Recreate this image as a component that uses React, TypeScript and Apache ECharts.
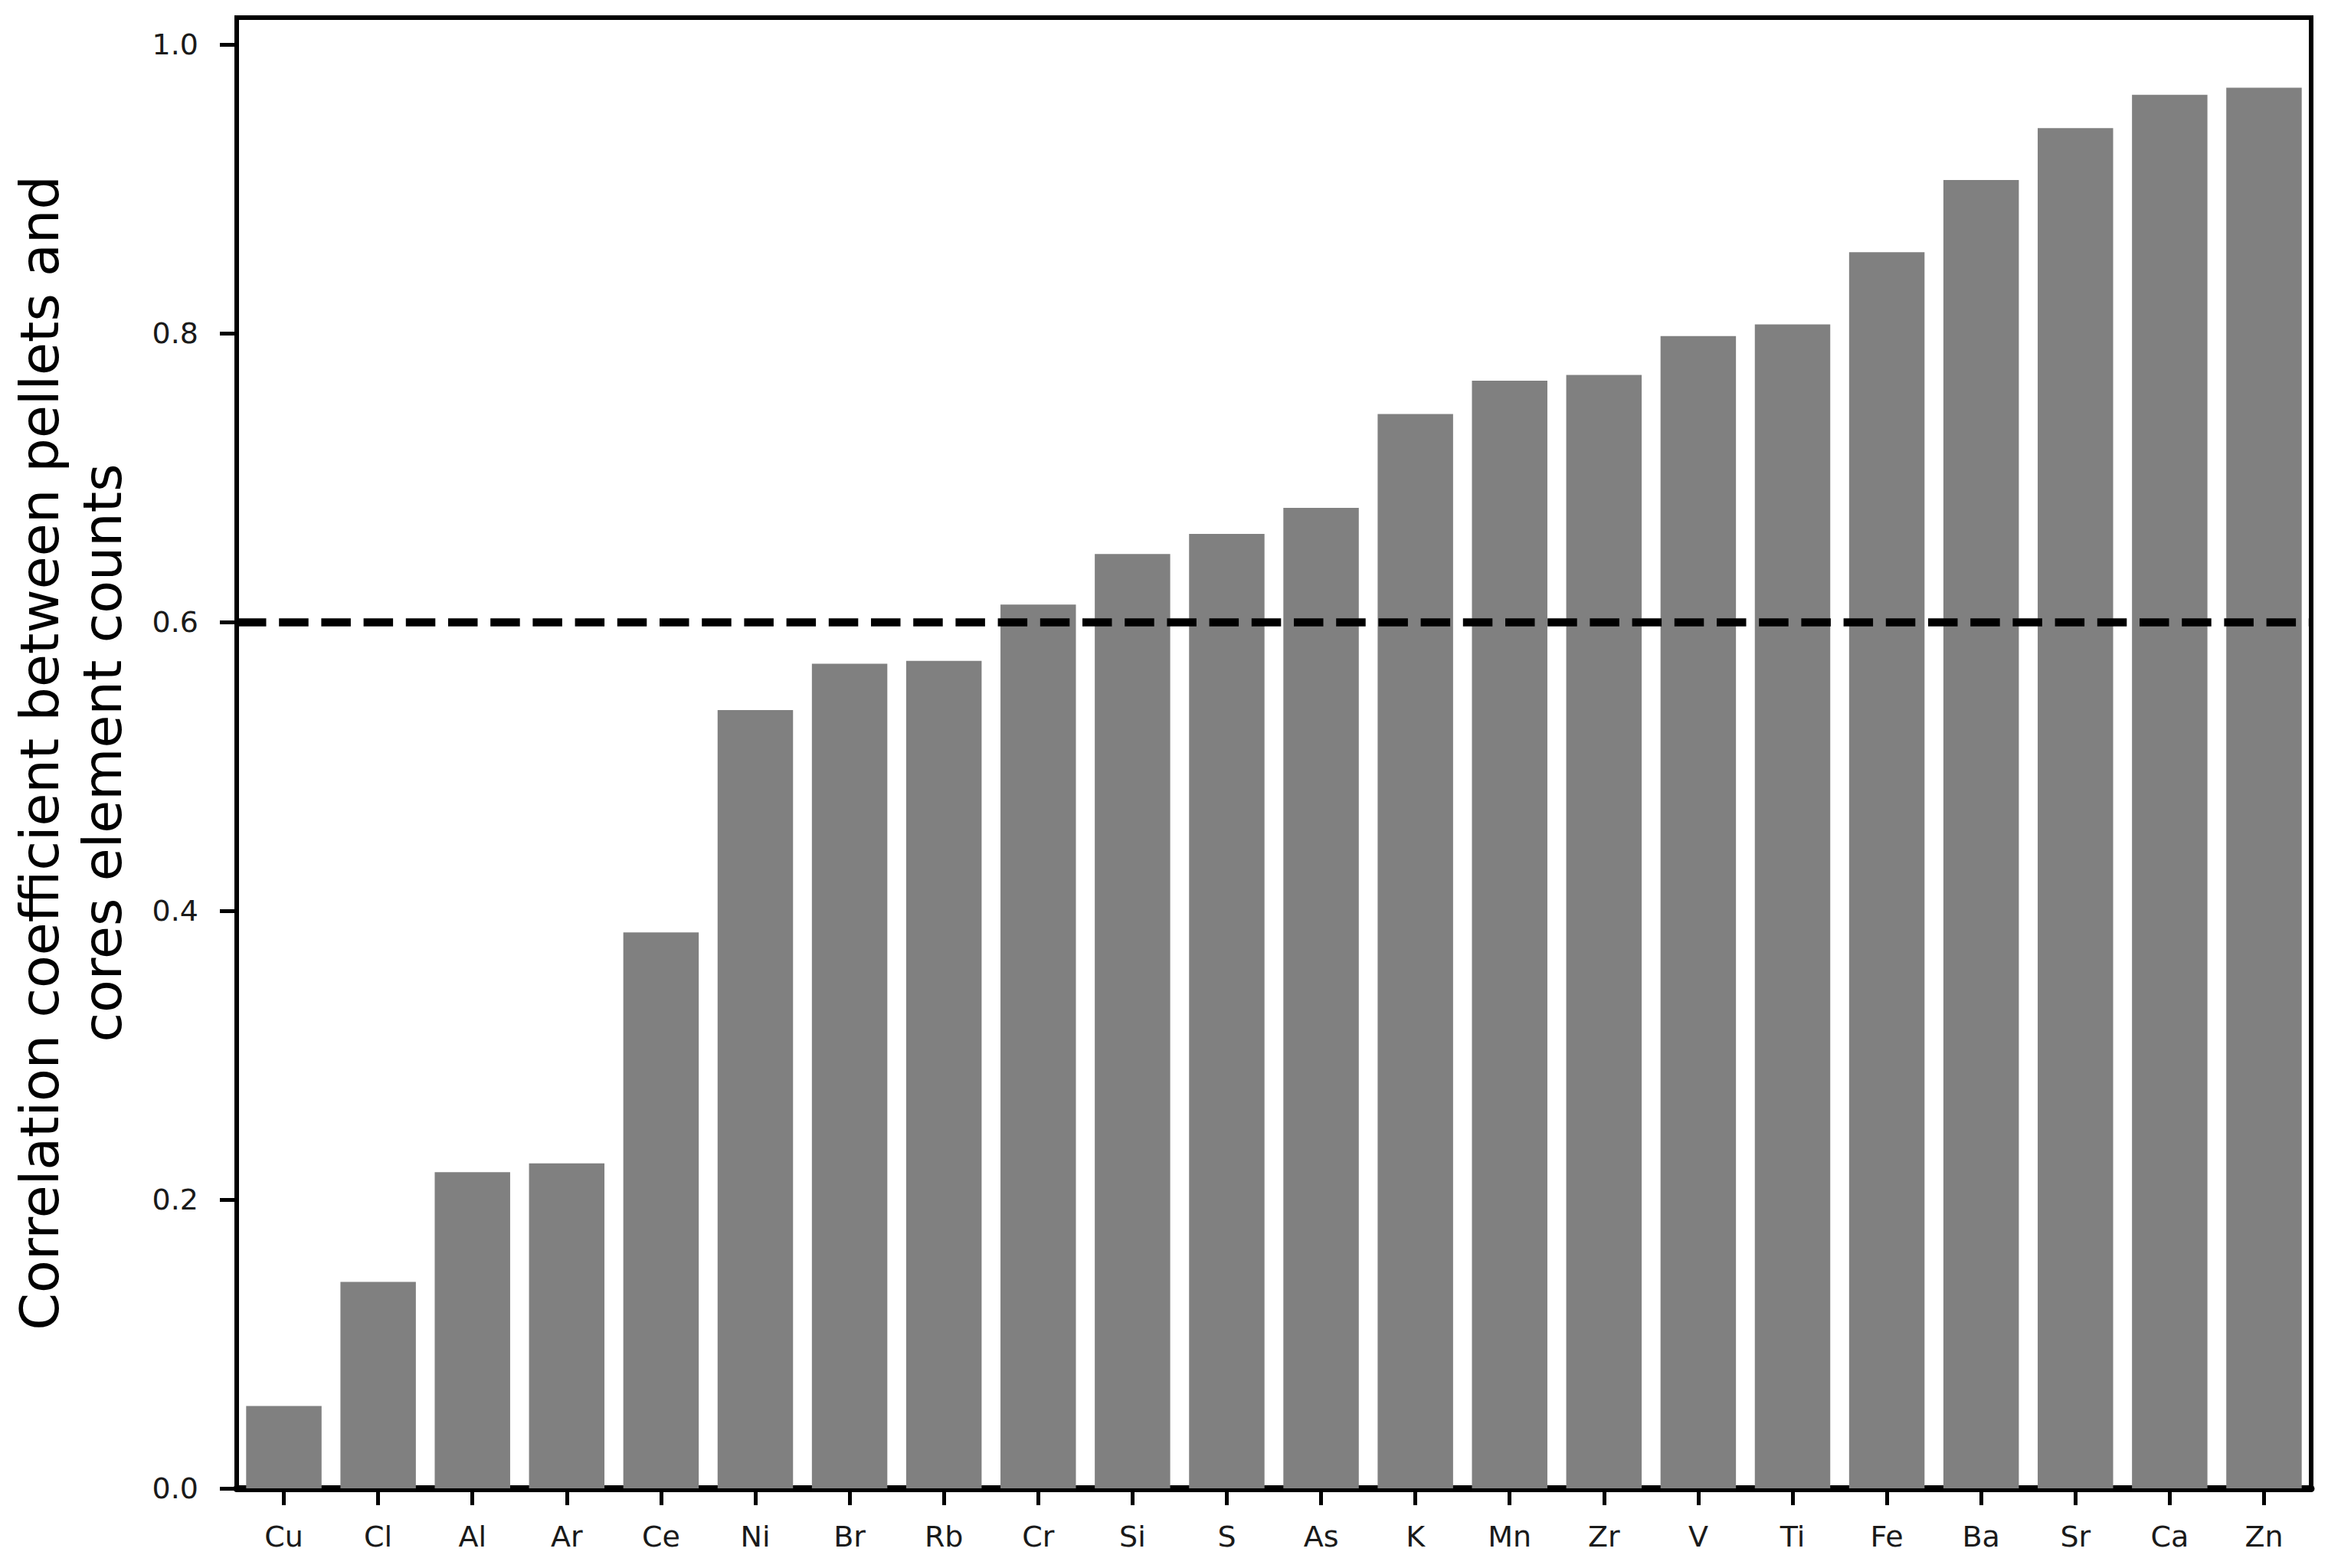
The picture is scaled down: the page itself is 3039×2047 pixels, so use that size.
import React, { useEffect, useRef } from "react";
import * as echarts from "echarts";

const elements = ["Cu", "Cl", "Al", "Ar", "Ce", "Ni", "Br", "Rb", "Cr", "Si", "S", "As", "K", "Mn", "Zr", "V", "Ti", "Fe", "Ba", "Sr", "Ca", "Zn"];
const correlations = [0.057, 0.143, 0.219, 0.225, 0.385, 0.539, 0.571, 0.573, 0.612, 0.647, 0.661, 0.679, 0.744, 0.767, 0.771, 0.798, 0.806, 0.856, 0.906, 0.942, 0.965, 0.970];
const yTicks = [0, 0.2, 0.4, 0.6, 0.8, 1.0];
const threshold = 0.6;
const yTitle = "Correlation coefficient between pellets and\ncores element counts";

const FONT = "DejaVu Sans";

export default function App() {
  const ref = useRef<HTMLDivElement>(null);
  useEffect(() => {
    if (!ref.current) return;
    const chart = echarts.init(ref.current, null, { renderer: "svg" });
    const yMax = Math.max(...correlations) * 1.05;
    chart.setOption({
      animation: false,
      backgroundColor: "#ffffff",
      grid: {
        left: 309,
        right: 22,
        top: 23,
        bottom: 104,
        show: true,
        borderColor: "#000000",
        borderWidth: 6,
        backgroundColor: "transparent",
      },
      xAxis: {
        type: "category",
        data: elements,
        boundaryGap: true,
        axisLine: { show: true, lineStyle: { color: "#000000", width: 9 } },
        axisTick: { show: true, alignWithLabel: true, length: 22, lineStyle: { color: "#000000", width: 5 } },
        axisLabel: { fontFamily: FONT, fontSize: 38, color: "#1a1a1a", margin: 44, interval: 0 },
        splitLine: { show: false },
      },
      yAxis: {
        type: "value",
        min: 0,
        max: yMax,
        name: yTitle,
        nameLocation: "middle",
        nameRotate: 90,
        nameGap: 134,
        nameTextStyle: { fontFamily: FONT, fontSize: 70, color: "#000000", lineHeight: 82, align: "center" },
        axisLine: { show: true, lineStyle: { color: "#000000", width: 6 } },
        axisTick: { show: true, length: 22, lineStyle: { color: "#000000", width: 5 }, customValues: yTicks },
        axisLabel: {
          fontFamily: FONT,
          fontSize: 38,
          color: "#1a1a1a",
          margin: 50,
          customValues: yTicks,
          formatter: (v: number) => v.toFixed(1),
        },
        splitLine: { show: false },
      },
      series: [
        {
          type: "bar",
          data: correlations,
          barCategoryGap: "20%",
          itemStyle: { color: "#808080" },
          markLine: {
            silent: true,
            symbol: ["none", "none"],
            label: { show: false },
            lineStyle: { color: "#000000", width: 10.5, type: [38.5, 16.7], opacity: 1 },
            data: [{ yAxis: threshold }],
          },
        },
      ],
    });
    return () => chart.dispose();
  }, []);
  return <div ref={ref} style={{ position: "fixed", left: 0, top: 0, width: 3039, height: 2047 }} />;
}
